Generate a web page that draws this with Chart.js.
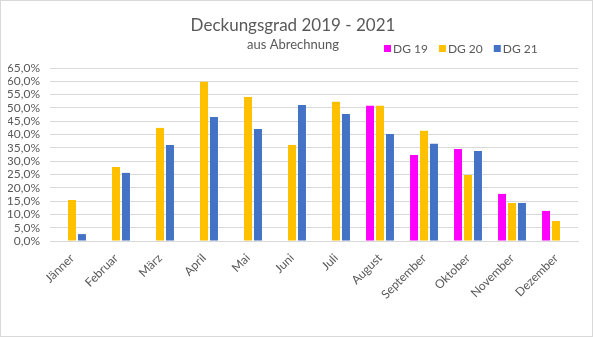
<!DOCTYPE html>
<html>
<head>
<meta charset="utf-8">
<script src="https://cdn.jsdelivr.net/npm/chart.js@4"></script>
<style>
  html, body { margin: 0; padding: 0; background: #fff; }
  #wrap { width: 593px; height: 337px; }
</style>
</head>
<body>
<div id="wrap"><canvas id="myChart" width="593" height="337"></canvas></div>
<script>
// Monate
const months = ["Jänner", "Februar", "März", "April", "Mai", "Juni", "Juli",
                "August", "September", "Oktober", "November", "Dezember"];

// Deckungsgrad in %
const dg19 = [null, null, null, null, null, null, null, 50.8, 32.3, 34.6, 17.7, 11.3];
const dg20 = [15.4, 27.8, 42.5, 59.8, 54.1, 36.1, 52.3, 50.8, 41.4, 24.8, 14.3, 7.5];
const dg21 = [2.6, 25.6, 36.1, 46.6, 42.1, 51.1, 47.7, 40.2, 36.5, 33.8, 14.3, null];

const seriesNames = ["DG 19", "DG 20", "DG 21"];
const seriesColors = ["#FF00FF", "#FFC000", "#4472C4"];

const textColor = "#595959";
const fontName = "Lato";

// Rahmen + Hintergrund
const framePlugin = {
    id: "frame",
    beforeDraw(chart) {
        const c = chart.ctx;
        c.save();
        c.fillStyle = "#fff";
        c.fillRect(0, 0, chart.width, chart.height);
        c.strokeStyle = "#D9D9D9";
        c.lineWidth = 1;
        c.strokeRect(0.5, 0.5, chart.width - 1, chart.height - 1);
        c.restore();
    }
};

// Legende neben dem Untertitel
const legendPlugin = {
    id: "sideLegend",
    afterDraw(chart) {
        const c = chart.ctx;
        c.save();
        c.font = "12px " + fontName;
        c.textBaseline = "middle";
        let x = 384;
        const y = 49;
        chart.data.datasets.forEach(ds => {
            c.fillStyle = ds.backgroundColor;
            c.fillRect(x, y - 4, 7, 7);
            c.fillStyle = textColor;
            c.fillText(ds.label, x + 9, y);
            x += 9 + c.measureText(ds.label).width + 11;
        });
        c.restore();
    }
};

const datasets = [dg19, dg20, dg21].map((d, i) => ({
    label: seriesNames[i],
    data: d,
    backgroundColor: seriesColors[i],
    categoryPercentage: 0.68,
    barPercentage: 0.8
}));

new Chart(document.getElementById("myChart"), {
    type: "bar",
    data: { labels: months, datasets: datasets },
    options: {
        responsive: false,
        animation: false,
        layout: { padding: { left: 8, right: 15, top: 0, bottom: 0 } },
        plugins: {
            legend: { display: false },
            tooltip: { enabled: false },
            title: {
                display: true,
                text: "Deckungsgrad 2019 - 2021",
                color: textColor,
                font: { family: fontName, size: 17, weight: "normal" },
                padding: { top: 15, bottom: 0 }
            },
            subtitle: {
                display: true,
                text: "aus Abrechnung",
                color: textColor,
                font: { family: fontName, size: 13, weight: "normal" },
                padding: { top: 2, bottom: 15 }
            }
        },
        scales: {
            x: {
                grid: { display: false },
                border: { color: "#D9D9D9" },
                ticks: {
                    color: textColor,
                    font: { family: fontName, size: 12 },
                    minRotation: 45,
                    maxRotation: 45,
                    padding: 2
                },
                afterFit(scale) { scale.height = 96; }
            },
            y: {
                min: 0,
                max: 65,
                grid: { color: "#D9D9D9", drawTicks: false },
                border: { display: false },
                ticks: {
                    stepSize: 5,
                    autoSkip: false,
                    color: textColor,
                    font: { family: fontName, size: 12 },
                    padding: 10,
                    callback: v => v.toFixed(1).replace(".", ",") + "%"
                },
                afterFit(scale) { scale.width = 42; }
            }
        }
    },
    plugins: [framePlugin, legendPlugin]
});
</script>
</body>
</html>
